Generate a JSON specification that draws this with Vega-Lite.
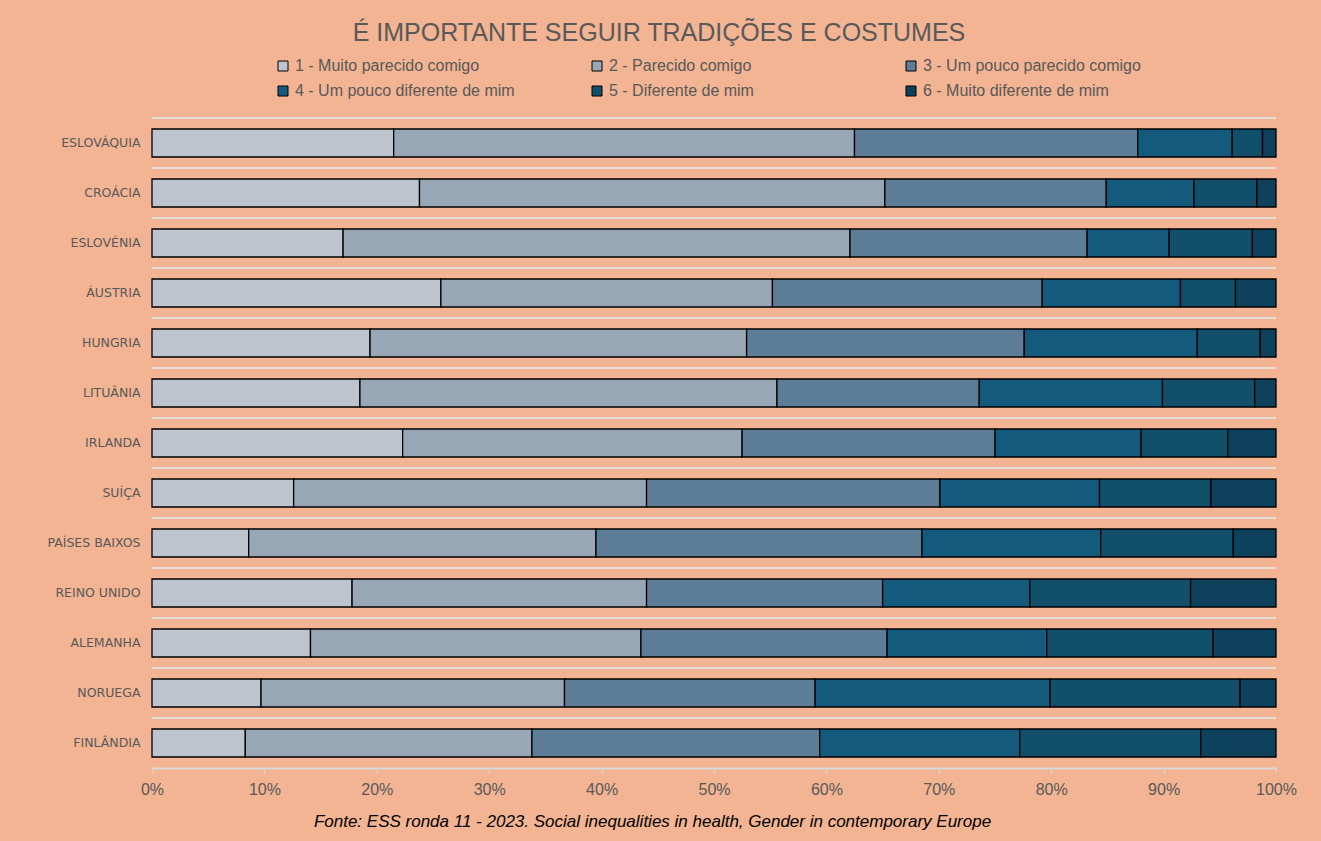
{
  "$schema": "https://vega.github.io/schema/vega-lite/v6.json",
  "width": 1124,
  "height": 650,
  "autosize": {"type": "none"},
  "padding": {"left": 152, "top": 118, "right": 45, "bottom": 73},
  "background": "#F2B493",
  "title": {
    "text": "É IMPORTANTE SEGUIR TRADIÇÕES E COSTUMES",
    "anchor": "middle",
    "frame": "group",
    "dx": -55,
    "offset": 12,
    "font": "Liberation Sans",
    "fontSize": 25,
    "fontWeight": "normal",
    "color": "#595959"
  },
  "data": {
    "values": [
      {"country": "ESLOVÁQUIA", "1 - Muito parecido comigo": 21.5, "2 - Parecido comigo": 41.0, "3 - Um pouco parecido comigo": 25.2, "4 - Um pouco diferente de mim": 8.4, "5 - Diferente de mim": 2.7, "6 - Muito diferente de mim": 1.2},
      {"country": "CROÁCIA", "1 - Muito parecido comigo": 23.8, "2 - Parecido comigo": 41.4, "3 - Um pouco parecido comigo": 19.7, "4 - Um pouco diferente de mim": 7.8, "5 - Diferente de mim": 5.6, "6 - Muito diferente de mim": 1.7},
      {"country": "ESLOVÉNIA", "1 - Muito parecido comigo": 17.0, "2 - Parecido comigo": 45.1, "3 - Um pouco parecido comigo": 21.1, "4 - Um pouco diferente de mim": 7.3, "5 - Diferente de mim": 7.4, "6 - Muito diferente de mim": 2.1},
      {"country": "ÁUSTRIA", "1 - Muito parecido comigo": 25.7, "2 - Parecido comigo": 29.5, "3 - Um pouco parecido comigo": 24.0, "4 - Um pouco diferente de mim": 12.3, "5 - Diferente de mim": 4.9, "6 - Muito diferente de mim": 3.6},
      {"country": "HUNGRIA", "1 - Muito parecido comigo": 19.4, "2 - Parecido comigo": 33.5, "3 - Um pouco parecido comigo": 24.7, "4 - Um pouco diferente de mim": 15.4, "5 - Diferente de mim": 5.6, "6 - Muito diferente de mim": 1.4},
      {"country": "LITUÂNIA", "1 - Muito parecido comigo": 18.5, "2 - Parecido comigo": 37.1, "3 - Um pouco parecido comigo": 18.0, "4 - Um pouco diferente de mim": 16.3, "5 - Diferente de mim": 8.2, "6 - Muito diferente de mim": 1.9},
      {"country": "IRLANDA", "1 - Muito parecido comigo": 22.3, "2 - Parecido comigo": 30.2, "3 - Um pouco parecido comigo": 22.5, "4 - Um pouco diferente de mim": 13.0, "5 - Diferente de mim": 7.7, "6 - Muito diferente de mim": 4.3},
      {"country": "SUÍÇA", "1 - Muito parecido comigo": 12.6, "2 - Parecido comigo": 31.4, "3 - Um pouco parecido comigo": 26.1, "4 - Um pouco diferente de mim": 14.2, "5 - Diferente de mim": 9.9, "6 - Muito diferente de mim": 5.8},
      {"country": "PAÍSES BAIXOS", "1 - Muito parecido comigo": 8.6, "2 - Parecido comigo": 30.9, "3 - Um pouco parecido comigo": 29.0, "4 - Um pouco diferente de mim": 15.9, "5 - Diferente de mim": 11.8, "6 - Muito diferente de mim": 3.8},
      {"country": "REINO UNIDO", "1 - Muito parecido comigo": 17.8, "2 - Parecido comigo": 26.2, "3 - Um pouco parecido comigo": 21.0, "4 - Um pouco diferente de mim": 13.1, "5 - Diferente de mim": 14.3, "6 - Muito diferente de mim": 7.6},
      {"country": "ALEMANHA", "1 - Muito parecido comigo": 14.1, "2 - Parecido comigo": 29.4, "3 - Um pouco parecido comigo": 21.9, "4 - Um pouco diferente de mim": 14.2, "5 - Diferente de mim": 14.8, "6 - Muito diferente de mim": 5.6},
      {"country": "NORUEGA", "1 - Muito parecido comigo": 9.7, "2 - Parecido comigo": 27.0, "3 - Um pouco parecido comigo": 22.3, "4 - Um pouco diferente de mim": 20.9, "5 - Diferente de mim": 16.9, "6 - Muito diferente de mim": 3.2},
      {"country": "FINLÂNDIA", "1 - Muito parecido comigo": 8.3, "2 - Parecido comigo": 25.5, "3 - Um pouco parecido comigo": 25.6, "4 - Um pouco diferente de mim": 17.8, "5 - Diferente de mim": 16.1, "6 - Muito diferente de mim": 6.7}
    ]
  },
  "encoding": {
    "y": {
      "field": "country",
      "type": "nominal",
      "sort": null,
      "scale": {"paddingInner": 0.44, "paddingOuter": 0.22},
      "axis": {
        "title": null,
        "labelFont": "DejaVu Sans",
        "labelFontSize": 12.5,
        "labelColor": "#595959",
        "labelPadding": 12,
        "ticks": false,
        "domain": false,
        "grid": false
      }
    }
  },
  "layer": [
    {
      "mark": {"type": "rule", "color": "#E8DDD8", "strokeWidth": 2, "yOffset": -11},
      "encoding": {
        "y": {"field": "country", "type": "nominal", "sort": null, "bandPosition": 0}
      }
    },
    {
      "transform": [
        {"fold": ["1 - Muito parecido comigo", "2 - Parecido comigo", "3 - Um pouco parecido comigo", "4 - Um pouco diferente de mim", "5 - Diferente de mim", "6 - Muito diferente de mim"], "as": ["categoria", "valor"]}
      ],
      "mark": {"type": "bar", "stroke": "#000000", "strokeWidth": 1.3},
      "encoding": {
        "x": {
          "field": "valor",
          "type": "quantitative",
          "stack": "normalize",
          "scale": {"domain": [0, 1], "nice": false},
          "axis": {
            "values": [0, 0.1, 0.2, 0.3, 0.4, 0.5, 0.6, 0.7, 0.8, 0.9, 1],
            "format": ".0%",
            "grid": false,
            "labelFlush": false,
            "domainColor": "#D9D9D9",
            "domainWidth": 2,
            "tickColor": "#D9D9D9",
            "tickSize": 5,
            "labelFont": "Liberation Sans",
            "labelFontSize": 16,
            "labelColor": "#595959",
            "labelPadding": 8,
            "title": "Fonte: ESS ronda 11 - 2023. Social inequalities in health, Gender in contemporary Europe",
            "titleFont": "Liberation Sans",
            "titleFontStyle": "italic",
            "titleFontWeight": "normal",
            "titleFontSize": 17,
            "titleColor": "#000000",
            "titleX": 500,
            "titleY": 53,
            "titleBaseline": "middle"
          }
        },
        "color": {
          "field": "categoria",
          "type": "nominal",
          "scale": {
            "domain": ["1 - Muito parecido comigo", "2 - Parecido comigo", "3 - Um pouco parecido comigo", "4 - Um pouco diferente de mim", "5 - Diferente de mim", "6 - Muito diferente de mim"],
            "range": ["#BDC4CE", "#97A7B6", "#5D7C96", "#145A7C", "#124F6B", "#0E425C"]
          },
          "legend": {
            "title": null,
            "orient": "none",
            "legendX": 123,
            "legendY": -60,
            "direction": "horizontal",
            "columns": 3,
            "gridAlign": "all",
            "columnPadding": 74,
            "rowPadding": 9,
            "symbolType": "square",
            "symbolSize": 100,
            "symbolStrokeColor": "#000000",
            "symbolStrokeWidth": 1,
            "labelFont": "Liberation Sans",
            "labelFontSize": 16,
            "labelColor": "#595959",
            "labelLimit": 400,
            "labelOffset": 4
          }
        },
        "order": {"field": "categoria", "type": "nominal", "sort": "ascending"}
      }
    }
  ],
  "config": {"view": {"stroke": null}}
}
